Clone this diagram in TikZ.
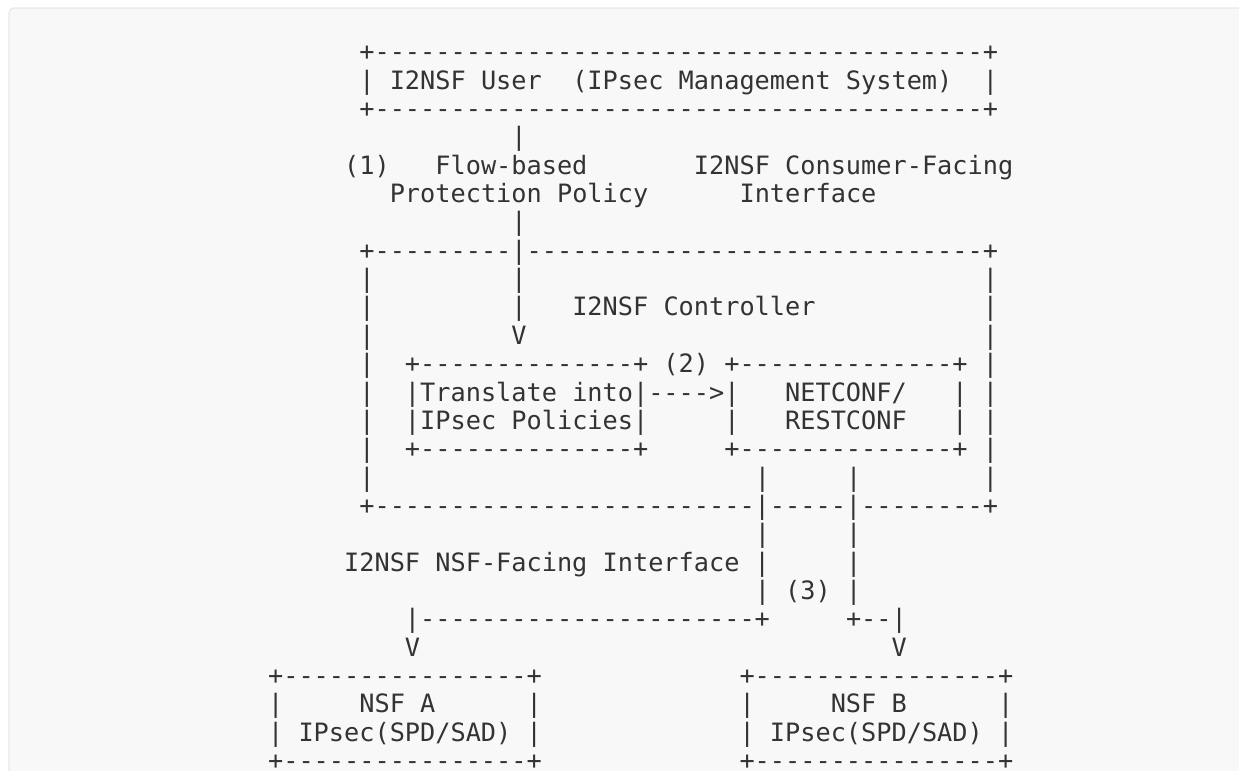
\documentclass[tikz,border=0pt]{standalone}
\usepackage{fontspec}
\setmonofont{DejaVu Sans Mono}
\definecolor{panelfill}{HTML}{F8F8F8}
\definecolor{panelline}{HTML}{E8E8E8}
\definecolor{ink}{HTML}{333333}
\tikzset{
  ascii/.style = {inner sep=0pt, outer sep=0pt, anchor=base west, text=ink,
                  font=\ttfamily\fontsize{12.63}{14}\selectfont},
  panel/.style = {fill=panelfill, draw=panelline, line width=0.6pt,
                  rounded corners=2.5pt}
}
% runs of blanks and dashes, one character cell each
\newcommand\gap[1]{\hspace*{#1\fontdimen2\font}}
\newcommand\dashes[1]{\foreach\k in {1,...,#1}{-}}

\begin{document}
\begin{tikzpicture}[x=0.5pt,y=-0.5pt]
\useasboundingbox (0,0) rectangle (1239,771);
\clip (0,0) rectangle (1239,771);
\fill[white] (0,0) rectangle (1239,771);
\draw[panel] (9,8) rectangle (1260,800);

% one node per line of the figure, at (column,row)
\begin{scope}[xshift=134.05pt, yshift=-30.35pt, x=7.605pt, y=-14.18pt]
% I2NSF User
\node[ascii] (r0)  at (6,0)  {+\dashes{40}+};
\node[ascii] (r1)  at (6,1)  {| I2NSF User\gap{2}(IPsec Management System)\gap{2}|};
\node[ascii] (r2)  at (6,2)  {+\dashes{40}+};
\node[ascii] (r3)  at (16,3) {|};
\node[ascii] (r4)  at (5,4)  {(1)\gap{3}Flow-based\gap{7}I2NSF Consumer-Facing};
\node[ascii] (r5)  at (8,5)  {Protection Policy\gap{6}Interface};
\node[ascii] (r6)  at (16,6) {|};

% I2NSF Controller
\node[ascii] (r7)  at (6,7)  {+\dashes{9}|\dashes{30}+};
\node[ascii] (r8)  at (6,8)  {|\gap{9}|\gap{30}|};
\node[ascii] (r9)  at (6,9)  {|\gap{9}|\gap{3}I2NSF Controller\gap{11}|};
\node[ascii] (r10) at (6,10) {|\gap{9}V\gap{30}|};
\node[ascii] (r11) at (6,11) {|\gap{2}+\dashes{14}+ (2) +\dashes{14}+ |};
\node[ascii] (r12) at (6,12) {|\gap{2}|Translate into|---->|\gap{3}NETCONF/\gap{3}| |};
\node[ascii] (r13) at (6,13) {|\gap{2}|IPsec Policies|\gap{5}|\gap{3}RESTCONF\gap{3}| |};
\node[ascii] (r14) at (6,14) {|\gap{2}+\dashes{14}+\gap{5}+\dashes{14}+ |};
\node[ascii] (r15) at (6,15) {|\gap{25}|\gap{5}|\gap{8}|};
\node[ascii] (r16) at (6,16) {+\dashes{25}|\dashes{5}|\dashes{8}+};

% NSF-Facing Interface
\node[ascii] (r17) at (32,17) {|\gap{5}|};
\node[ascii] (r18) at (5,18)  {I2NSF NSF-Facing Interface |\gap{5}|};
\node[ascii] (r19) at (32,19) {| (3) |};
\node[ascii] (r20) at (9,20)  {|\dashes{22}+\gap{5}+--|};
\node[ascii] (r21) at (9,21)  {V\gap{31}V};

% NSF A and NSF B
\node[ascii] (r22) at (0,22) {+\dashes{16}+\gap{13}+\dashes{16}+};
\node[ascii] (r23) at (0,23) {|\gap{5}NSF A\gap{6}|\gap{13}|\gap{5}NSF B\gap{6}|};
\node[ascii] (r24) at (0,24) {| IPsec(SPD/SAD) |\gap{13}| IPsec(SPD/SAD) |};
\node[ascii] (r25) at (0,25) {+\dashes{16}+\gap{13}+\dashes{16}+};
\end{scope}
\end{tikzpicture}
\end{document}
